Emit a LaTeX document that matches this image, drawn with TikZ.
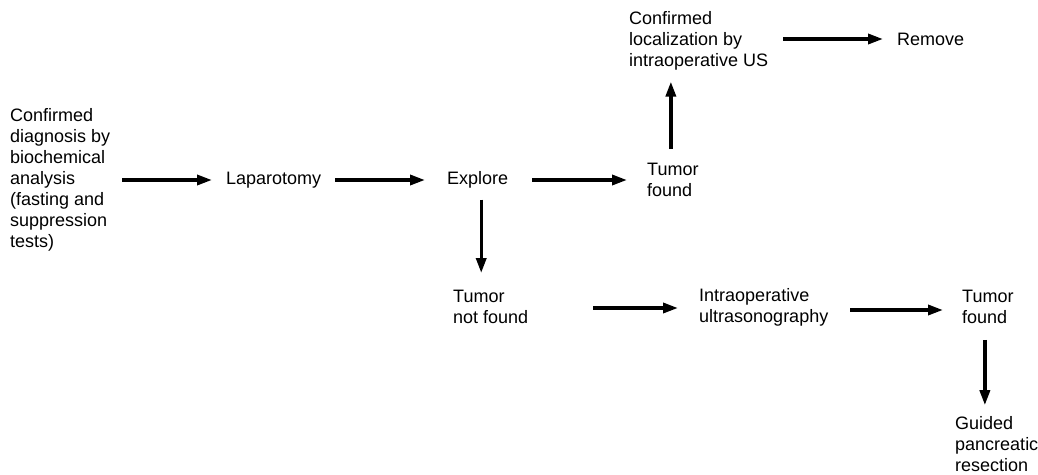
\documentclass[tikz,border=0pt]{standalone}
\usepackage{fontspec}
\setmainfont{Liberation Sans}
\usetikzlibrary{arrows.meta,calc}
\tikzset{
  lbl/.style={anchor=west, inner sep=0pt, align=left, font=\fontsize{18}{21}\selectfont},
  arr/.style={line width=3.4pt, -{Triangle[length=15pt,width=10pt]}}
}
\begin{document}
\begin{tikzpicture}[x=1pt,y=-1pt]
\useasboundingbox (0,0) rectangle (1038,474);
\node[lbl] (diag) at (10,180) {Confirmed\\diagnosis by\\biochemical\\analysis\\(fasting and\\suppression\\tests)};
\node[lbl] (lap) at (226,180) {Laparotomy};
\node[lbl] (exp) at (447,180) {Explore};
\node[lbl] (tf1) at (647,180) {Tumor\\found};
\node[lbl] (conf) at (629,41) {Confirmed\\localization by\\intraoperative US};
\node[lbl] (rem) at (897,39) {Remove};
\node[lbl] (tnf) at (453,307) {Tumor\\not found};
\node[lbl] (ius) at (699,307) {Intraoperative\\ultrasonography};
\node[lbl] (tf2) at (962,307) {Tumor\\found};
\node[lbl] (gpr) at (955,444) {Guided\\pancreatic\\resection};

\draw[arr] ([xshift=12pt]diag.east) -- ([xshift=-14pt]lap.west);
\draw[arr] ([xshift=14pt]lap.east) -- ([xshift=-22pt]exp.west);
\draw[arr] ([xshift=24pt]exp.east) -- ([xshift=-20pt]tf1.west);
\draw[arr] ([xshift=3.5pt,yshift=-11pt]exp.south) -- ([xshift=3.5pt,yshift=17pt]exp.south |- tnf.north);
\draw[arr] ([xshift=-2pt,yshift=14pt]tf1.north) -- ([xshift=-2pt,yshift=-11pt]tf1.north |- conf.south);
\draw[arr] ([xshift=15pt,yshift=2pt]conf.east) -- ([xshift=-14pt]rem.west);
\draw[arr] ([xshift=65pt,yshift=-1pt]tnf.east) -- ([xshift=-21pt,yshift=-1pt]ius.west);
\draw[arr] ([xshift=22pt,yshift=-3pt]ius.east) -- ([xshift=-19pt,yshift=-3pt]tf2.west);
\draw[arr] ([xshift=-3pt,yshift=-16pt]tf2.south) -- ([xshift=-3pt,yshift=11pt]tf2.south |- gpr.north);
\end{tikzpicture}
\end{document}
